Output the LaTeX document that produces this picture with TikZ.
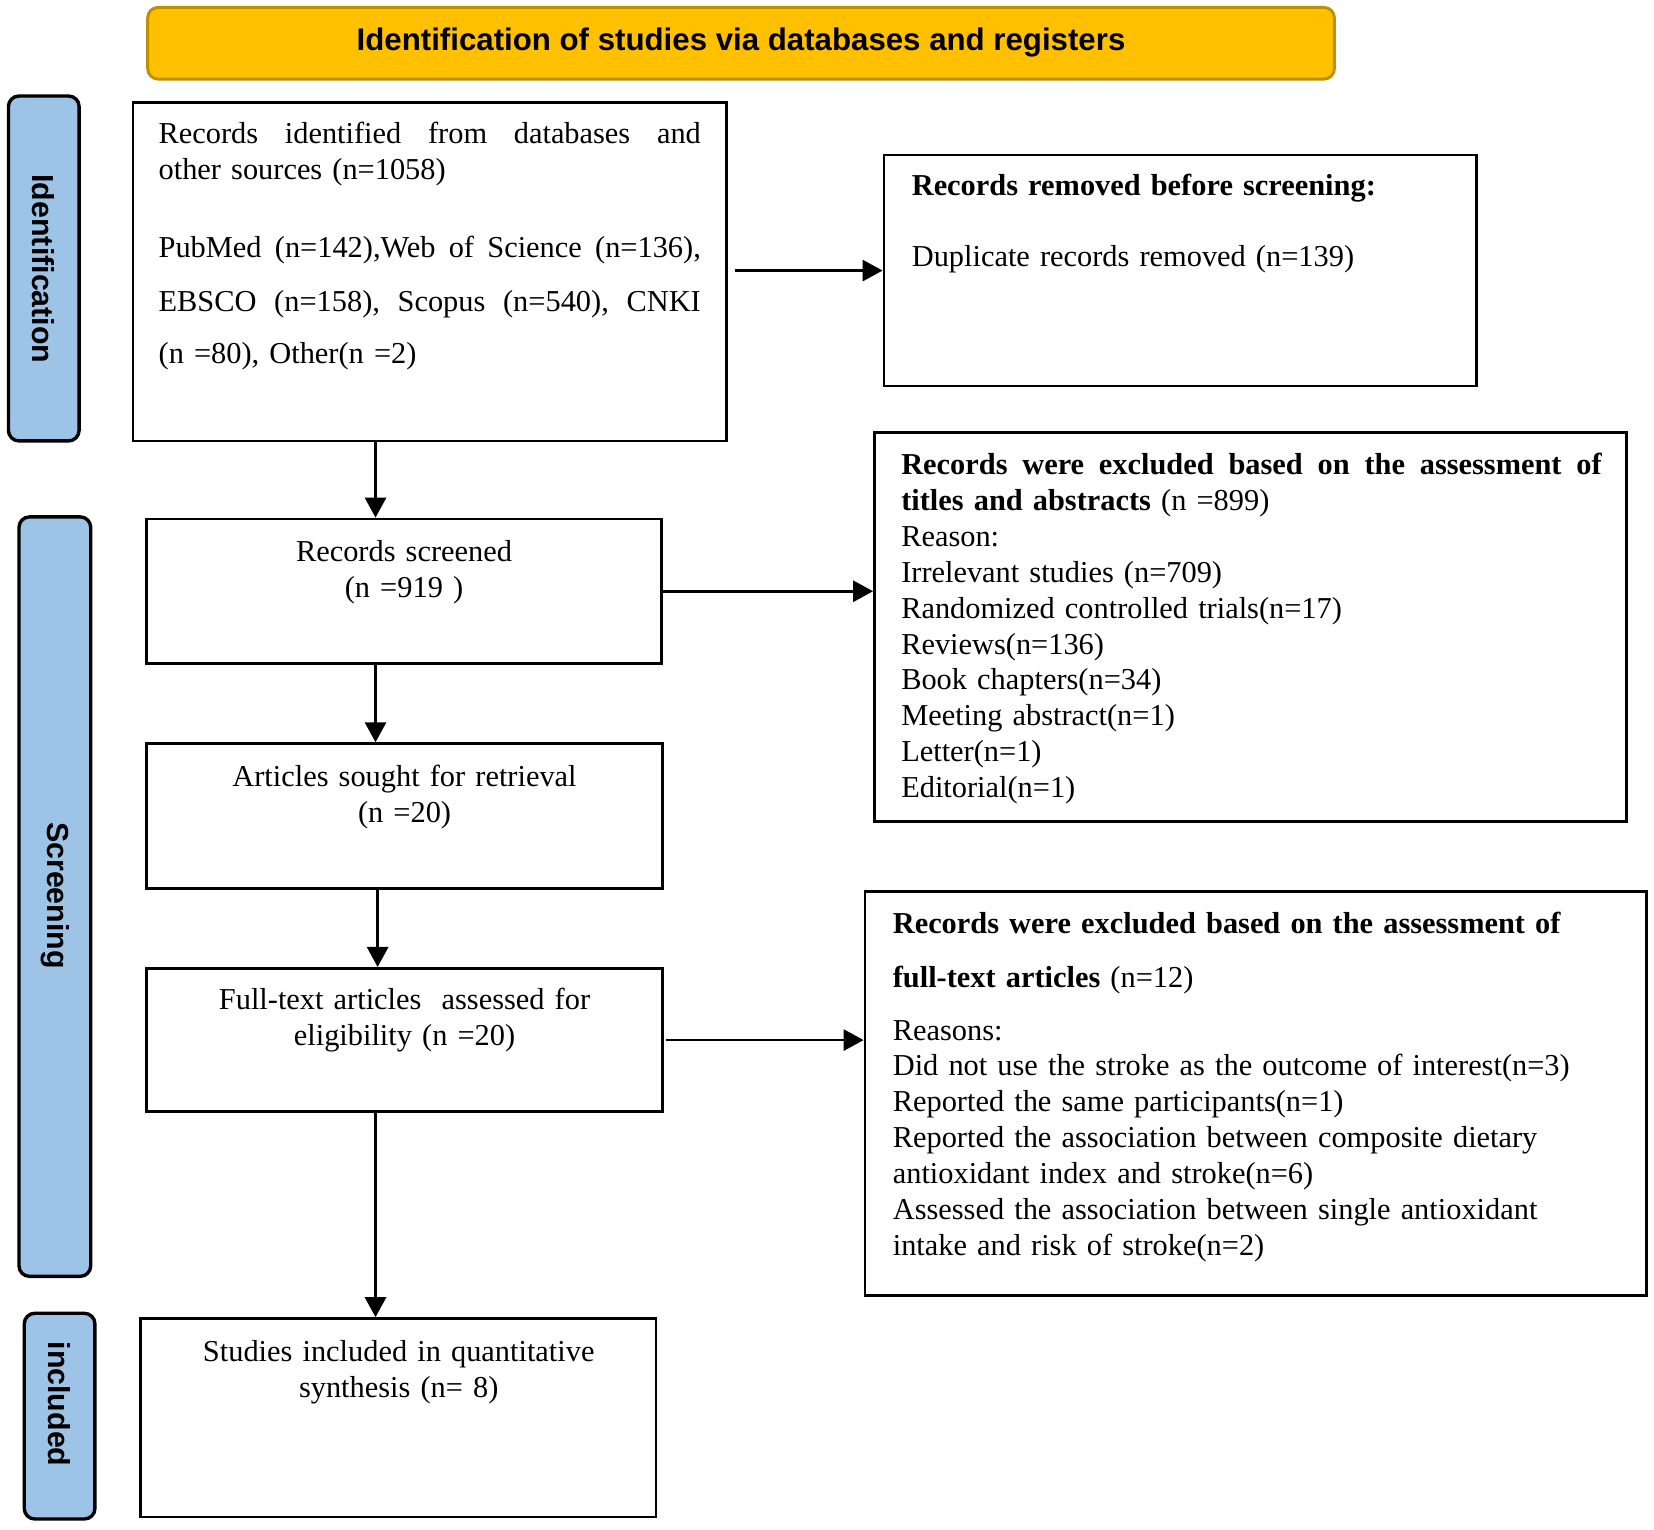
\documentclass[tikz,border=0pt]{standalone}
\usepackage{fontspec}
\setmainfont{Liberation Serif}
\setsansfont{Liberation Sans}
\usetikzlibrary{arrows.meta}
\definecolor{titlefill}{HTML}{FFC000}
\definecolor{titledraw}{HTML}{BF9000}
\definecolor{sideblue}{HTML}{9DC3E6}
\begin{document}
\begin{tikzpicture}[x=0.5pt,y=-0.5pt,
  box/.style={draw=black, line width=1.3pt, inner sep=0pt, fill=white},
  arr/.style={line width=1.3pt, -{Triangle[length=9.5pt,width=10pt]}},
  side/.style={draw=black, line width=1.6pt, fill=sideblue, rounded corners=5pt, inner sep=0pt},
  sidetxt/.style={font=\sffamily\bfseries\fontsize{14.4pt}{17pt}\selectfont, rotate=-90, inner sep=0pt},
  txt/.style={font=\fontsize{14.4pt}{17pt}\selectfont, inner sep=0pt},
  ctxt/.style={txt, anchor=base, text width=240pt, align=center}]
\useasboundingbox (0,0) rectangle (1568,1450);
% title
\node[draw=titledraw, line width=1.4pt, fill=titlefill, rounded corners=5pt, minimum width=562.5pt, minimum height=34pt, inner sep=0pt] (title) at (702.5,41) {};
\node[font=\sffamily\bfseries\fontsize{14.8pt}{18pt}\selectfont, inner sep=0pt] (titlet) at (702.5,40) {Identification of studies via databases and registers};
% side labels
\node[side, minimum width=33.5pt, minimum height=163.5pt] (s1) at (41.5,254.5) {};
\node[sidetxt] (s1t) at (41.5,255) {Identification};
\node[side, minimum width=34pt, minimum height=360pt] (s2) at (52,850) {};
\node[sidetxt] (s2t) at (52,849) {Screening};
\node[side, minimum width=33.5pt, minimum height=97.5pt] (s3) at (56.5,1342.5) {};
\node[sidetxt] (s3t) at (56.5,1331) {included};
% boxes
\node[box, minimum width=281.5pt, minimum height=160.5pt] (b1) at (407.5,257.5) {};
\node[box, minimum width=281pt, minimum height=109.5pt] (b2) at (1119,256.5) {};
\node[box, minimum width=244pt, minimum height=68.5pt] (b3) at (383,560.5) {};
\node[box, minimum width=356.5pt, minimum height=184.5pt] (b4) at (1185.5,594.5) {};
\node[box, minimum width=244.5pt, minimum height=68.5pt] (b5) at (383.5,773.5) {};
\node[box, minimum width=244.5pt, minimum height=68pt] (b6) at (383.5,986) {};
\node[box, minimum width=370.5pt, minimum height=191.5pt] (b7) at (1190.5,1036.5) {};
\node[box, minimum width=244.5pt, minimum height=94pt] (b8) at (377.5,1344) {};
% texts
\node[txt, anchor=base west, text width=257pt, align=left] (b1t) at (150,136) {%
\makebox[257pt][l]{Records\hfill identified\hfill from\hfill databases\hfill and}\\
other sources (n=1058)\\[20pt]
\makebox[257pt][l]{PubMed\hfill (n=142),Web\hfill of\hfill Science\hfill (n=136),}\\[8.5pt]
\makebox[257pt][l]{EBSCO\hfill (n=158),\hfill Scopus\hfill (n=540),\hfill CNKI}\\[8pt]
(n =80), Other(n =2)};
\node[txt, anchor=base west, text width=270pt, align=left] (b2t) at (864,185) {%
\textbf{Records removed before screening:}\\[17pt]
Duplicate records removed (n=139)};
\node[ctxt] (b3t) at (383,532) {Records screened\\(n =919 )};
\node[txt, anchor=base west, text width=332pt, align=left] (b4t) at (854,450) {%
\makebox[332pt][l]{\bfseries Records\hfill were\hfill excluded\hfill based\hfill on\hfill the\hfill assessment\hfill of}\\
\textbf{titles and abstracts} (n =899)\\
Reason:\\
Irrelevant studies (n=709)\\
Randomized controlled trials(n=17)\\
Reviews(n=136)\\
Book chapters(n=34)\\
Meeting abstract(n=1)\\
Letter(n=1)\\
Editorial(n=1)};
\node[ctxt] (b5t) at (383.5,746) {Articles sought for retrieval\\(n =20)};
\node[ctxt] (b6t) at (383.5,957) {Full-text articles\ \ assessed for\\eligibility (n =20)};
\node[txt, anchor=base west, text width=355pt, align=left] (b7t) at (846,885) {%
\textbf{Records were excluded based on the assessment of}\\[8.5pt]
\textbf{full-text articles} (n=12)\\[8pt]
Reasons:\\
Did not use the stroke as the outcome of interest(n=3)\\
Reported the same participants(n=1)\\
Reported the association between composite dietary\\
antioxidant index and stroke(n=6)\\
Assessed the association between single antioxidant\\
intake and risk of stroke(n=2)};
\node[ctxt] (b8t) at (378,1291) {Studies included in quantitative\\synthesis (n= 8)};
% connectors
\coordinate (cx) at (356,0);
\coordinate (cx2) at (358,0);
\draw[arr] ([xshift=3pt]b1.east |- b2.west) -- (b2.west);
\draw[arr] (b1.south -| cx) -- (b3.north -| cx);
\draw[arr] (b3.east) -- (b4.west |- b3.east);
\draw[arr] (b3.south -| cx) -- (b5.north -| cx);
\draw[arr] (b5.south -| cx2) -- (b6.north -| cx2);
\draw[arr] ([xshift=1pt]b6.east) -- (b7.west |- b6.east);
\draw[arr] (b6.south -| cx) -- (b8.north -| cx);
\end{tikzpicture}
\end{document}
